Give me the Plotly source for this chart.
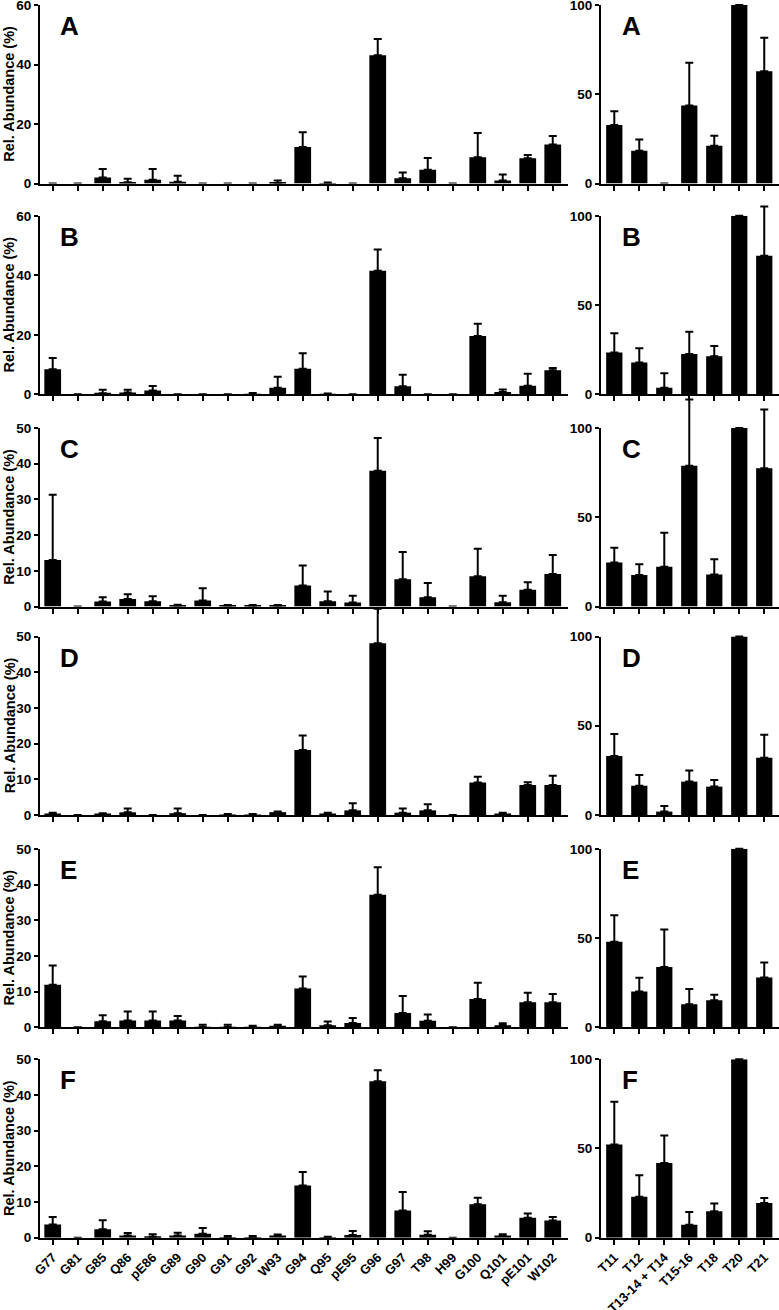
import plotly.graph_objects as go

# ---------------- data ----------------
residues = ["G77", "G81", "G85", "Q86", "pE86", "G89", "G90", "G91", "G92", "W93", "G94",
            "Q95", "pE95", "G96", "G97", "T98", "H99", "G100", "Q101", "pE101", "W102"]
peptides = ["T11", "T12", "T13-14 + T14", "T15-16", "T18", "T20", "T21"]
panels = ["A", "B", "C", "D", "E", "F"]

res_A = [0, 0, 2.0, 0.45, 1.3, 0.6, 0, 0, 0, 0.2, 12.3, 0.1, 0, 43.1, 1.8, 4.6, 0, 8.8, 1.0, 8.5, 13.1]
res_A_err = [0, 0, 2.9, 1.15, 3.6, 2.0, 0, 0, 0, 0.8, 4.9, 0.25, 0, 5.5, 1.9, 4.0, 0, 8.2, 2.0, 1.1, 2.9]
res_B = [8.4, 0, 0.35, 0.6, 1.3, 0, 0, 0, 0.1, 2.2, 8.6, 0.1, 0, 41.5, 2.7, 0, 0, 19.6, 0.8, 2.9, 8.1]
res_B_err = [3.8, 0, 1.15, 0.9, 1.5, 0, 0, 0, 0.3, 3.7, 5.2, 0.2, 0, 7.2, 3.9, 0, 0, 4.1, 0.8, 4.0, 0.7]
res_C = [13.0, 0, 1.4, 2.1, 1.5, 0.2, 1.7, 0.2, 0.2, 0.2, 5.9, 1.5, 1.1, 38.0, 7.6, 2.6, 0, 8.5, 1.2, 4.7, 9.1]
res_C_err = [18.3, 0, 1.2, 1.3, 1.4, 0.3, 3.4, 0.2, 0.2, 0.2, 5.6, 2.7, 1.9, 9.2, 7.7, 4.0, 0, 7.7, 1.8, 2.1, 5.3]
res_D = [0.2, 0, 0.2, 0.75, 0, 0.5, 0, 0.1, 0.1, 0.8, 18.2, 0.4, 1.3, 48.1, 0.65, 1.3, 0, 9.1, 0.2, 8.4, 8.4]
res_D_err = [0.4, 0, 0.3, 1.05, 0, 1.3, 0, 0.2, 0.2, 0.2, 4.1, 0.2, 2.0, 9.7, 1.15, 1.7, 0, 1.6, 0.4, 0.8, 2.6]
res_E = [11.9, 0, 1.7, 1.9, 1.9, 1.9, 0.1, 0.1, 0.1, 0.2, 10.9, 0.6, 1.2, 37.1, 4.0, 1.8, 0, 7.9, 0.6, 7.0, 7.0]
res_E_err = [5.4, 0, 1.7, 2.5, 2.5, 1.3, 0.6, 0.6, 0.3, 0.5, 3.3, 1.0, 1.4, 7.7, 4.8, 1.8, 0, 4.6, 0.5, 2.7, 2.3]
res_F = [3.7, 0, 2.4, 0.6, 0.3, 0.6, 1.1, 0.1, 0.1, 0.6, 14.6, 0.1, 0.75, 43.8, 7.6, 0.85, 0, 9.4, 0.6, 5.6, 4.8]
res_F_err = [2.1, 0, 2.5, 0.7, 0.7, 0.8, 1.6, 0.4, 0.4, 0.3, 3.8, 0.2, 1.15, 3.1, 5.2, 0.95, 0, 1.8, 0.4, 1.2, 1.0]

pep_A = [32.8, 18.3, 0, 43.7, 21.1, 100, 62.9]
pep_A_err = [7.7, 6.3, 0, 24.0, 5.6, 0, 18.8]
pep_B = [23.4, 17.8, 3.6, 22.6, 21.3, 100, 77.6]
pep_B_err = [10.8, 8.0, 8.2, 12.4, 5.8, 0, 27.6]
pep_C = [24.7, 17.6, 22.2, 78.9, 17.9, 100, 77.4]
pep_C_err = [8.2, 6.1, 19.1, 37.0, 8.6, 0, 32.9]
pep_D = [33.1, 16.4, 1.9, 18.7, 15.9, 100, 32.1]
pep_D_err = [12.3, 6.0, 3.1, 6.2, 3.7, 0, 12.8]
pep_E = [47.9, 20.0, 33.8, 12.9, 15.1, 100, 27.9]
pep_E_err = [14.9, 7.7, 21.0, 8.6, 3.2, 0, 8.4]
pep_F = [52.2, 23.0, 41.9, 7.3, 14.8, 100, 19.5]
pep_F_err = [24.0, 12.0, 15.4, 7.1, 4.3, 0, 2.8]

left_vals = [res_A, res_B, res_C, res_D, res_E, res_F]
left_errs = [res_A_err, res_B_err, res_C_err, res_D_err, res_E_err, res_F_err]
right_vals = [pep_A, pep_B, pep_C, pep_D, pep_E, pep_F]
right_errs = [pep_A_err, pep_B_err, pep_C_err, pep_D_err, pep_E_err, pep_F_err]

left_ymax = [60, 60, 50, 50, 50, 50]
left_dtick = [20, 20, 10, 10, 10, 10]
right_ymax = 100
right_dtick = 50

# ---------------- layout geometry (pixels) ----------------
W, H = 779, 1310
row_px = [(5, 183.5), (215.8, 394.3), (428, 606.5), (636.5, 815), (848.8, 1027.3), (1059.2, 1237.7)]
left_x = (40 / W, 568 / W)
right_x = (601 / W, 1.0)

FONT = "Liberation Sans, Arial, Helvetica, sans-serif"


def sfx(n):
    return "" if n == 1 else str(n)


def errs(lst):
    # no whisker drawn where there is no error
    return [e if e > 0 else None for e in lst]


fig = go.Figure()
layout = dict(width=W, height=H, margin=dict(l=0, r=0, t=0, b=0, autoexpand=False),
              paper_bgcolor="white", plot_bgcolor="rgba(0,0,0,0)", showlegend=False,
              font=dict(family=FONT, color="black"))
annotations = []

axis_common = dict(showline=True, linecolor="black", linewidth=2, ticks="outside",
                   tickwidth=2, tickcolor="black", showgrid=False, zeroline=False,
                   fixedrange=True, automargin=False)
tickfont = dict(size=13.5, family=FONT, weight="bold", color="black")
xtickfont = dict(size=13, family=FONT, weight="bold", color="black")

for i in range(6):
    top, bot = row_px[i]
    h = bot - top
    extra = min(34, top)
    ydom = [1 - bot / H, 1 - top / H]
    ydom_ext = [1 - bot / H, 1 - (top - extra) / H]
    last = (i == 5)
    for side in (0, 1):
        k = 2 * i + 1 + side
        vis = sfx(k)
        hid = str(k + 12)
        if side == 0:
            cats, vals, er = residues, left_vals[i], left_errs[i]
            ymax, dt, xdom, xr, bw = left_ymax[i], left_dtick[i], left_x, [-0.508, 20.61], 0.67
        else:
            cats, vals, er = peptides, right_vals[i], right_errs[i]
            ymax, dt, xdom, xr, bw = right_ymax, right_dtick, right_x, [-0.532, 6.59], 0.65

        # bars on the visible axes
        fig.add_trace(go.Bar(
            x=cats, y=vals, width=bw,
            marker=dict(color="black", line=dict(width=0)),
            cliponaxis=False, xaxis=f"x{vis}", yaxis=f"y{vis}"))
        # whiskers on a hidden, taller copy of the axes (same scale) so they are not clipped
        fig.add_trace(go.Scatter(
            x=cats, y=vals, mode="markers", marker=dict(size=1, opacity=0, color="black"),
            error_y=dict(type="data", array=errs(er), arrayminus=[0] * len(cats),
                         symmetric=False, color="black", thickness=2, width=4),
            cliponaxis=False, xaxis=f"x{hid}", yaxis=f"y{hid}"))

        layout[f"xaxis{vis}"] = dict(axis_common, domain=list(xdom), anchor=f"y{vis}",
                                     type="category", categoryorder="array", categoryarray=cats,
                                     range=xr, ticklen=5,
                                     showticklabels=last, tickangle=-45, tickfont=xtickfont)
        layout[f"yaxis{vis}"] = dict(axis_common, domain=ydom, anchor=f"x{vis}",
                                     range=[0, ymax], dtick=dt, ticklen=4,
                                     ticklabeloverflow="allow", tickfont=tickfont)
        layout[f"xaxis{hid}"] = dict(domain=list(xdom), anchor=f"y{hid}", visible=False,
                                     type="category", categoryorder="array", categoryarray=cats,
                                     range=xr, fixedrange=True, showgrid=False, zeroline=False)
        layout[f"yaxis{hid}"] = dict(domain=ydom_ext, anchor=f"x{hid}", visible=False,
                                     range=[0, ymax * (h + extra) / h], fixedrange=True,
                                     showgrid=False, zeroline=False)

        annotations.append(dict(text=panels[i], xref=f"x{vis} domain", yref=f"y{vis} domain",
                                x=(18 / 528) if side == 0 else (19 / 178),
                                y=1 - 21 / 178.5, xanchor="left", yanchor="middle",
                                showarrow=False,
                                font=dict(size=26, family=FONT, weight="bold", color="black")))

    annotations.append(dict(text="Rel. Abundance (%)", xref="paper", yref=f"y{sfx(2 * i + 1)} domain",
                            x=9.5 / W, y=0.5, xanchor="center", yanchor="middle",
                            textangle=-90, showarrow=False,
                            font=dict(size=14.5, family=FONT, weight="bold", color="black")))

layout["annotations"] = annotations
fig.update_layout(**layout)
fig.write_html("out.html", config={"displayModeBar": False},
               post_script="document.body.style.margin='0';document.body.style.padding='0';"
                           "document.body.style.overflow='hidden';")
